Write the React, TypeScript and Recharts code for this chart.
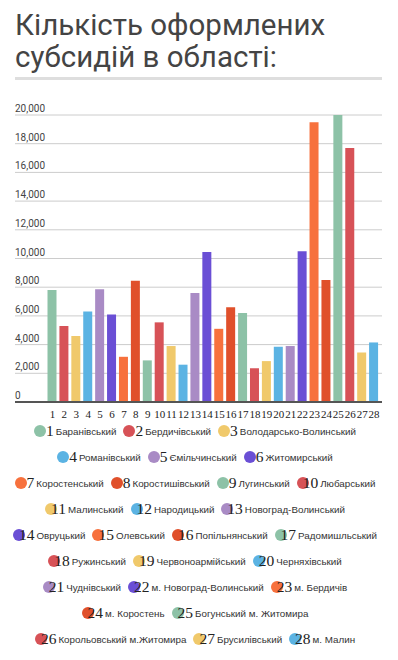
import React from "react";
import { BarChart, Bar, XAxis, YAxis, CartesianGrid, Cell } from "recharts";

const districts = [
  "Баранівський",
  "Бердичівський",
  "Володарсько-Волинський",
  "Романівський",
  "Ємільчинський",
  "Житомирський",
  "Коростенський",
  "Коростишівський",
  "Лугинський",
  "Любарський",
  "Малинський",
  "Народицький",
  "Новоград-Волинський",
  "Овруцький",
  "Олевський",
  "Попільнянський",
  "Радомишльський",
  "Ружинський",
  "Червоноармійський",
  "Черняхівський",
  "Чуднівський",
  "м. Новоград-Волинський",
  "м. Бердичів",
  "м. Коростень",
  "Богунський м. Житомира",
  "Корольовський м.Житомира",
  "Брусилівський",
  "м. Малин",
];

const subsidies = [
  7800, 5300, 4600, 6300, 7850, 6100, 3150, 8450, 2900, 5550, 3900, 2600, 7600, 10450,
  5100, 6600, 6200, 2350, 2850, 3850, 3900, 10500, 19500, 8500, 20000, 17700, 3450, 4150,
];

const palette = ["#8dc2a7", "#d75257", "#f0c96b", "#5bb3e3", "#a98bc5", "#6a4fd5", "#f7713d", "#e0502b"];

const yTicks = [0, 2000, 4000, 6000, 8000, 10000, 12000, 14000, 16000, 18000, 20000];

// which legend entries sit on each row (1-based numbers)
const legendRows = [
  [1, 2, 3],
  [4, 5, 6],
  [7, 8, 9, 10],
  [11, 12, 13],
  [14, 15, 16, 17],
  [18, 19, 20],
  [21, 22, 23],
  [24, 25],
  [26, 27, 28],
];

const data = districts.map((name, i) => ({
  num: String(i + 1),
  name,
  value: subsidies[i],
  color: palette[i % palette.length],
}));

const PLOT_LEFT = 15;

const renderYTick = (props: any) => {
  const { y, payload } = props;
  return (
    <text x={PLOT_LEFT} y={y - 3} fontSize={10} fill="#444" fontFamily="Roboto, sans-serif" textAnchor="start">
      {Number(payload.value).toLocaleString("en-US")}
    </text>
  );
};

const LegendItem = ({ n }: { n: number }) => {
  const d = data[n - 1];
  const digits = d.num.length;
  return (
    <span style={{ display: "inline-flex", alignItems: "center", margin: "0 3.5px", whiteSpace: "nowrap" }}>
      <span
        style={{
          width: 12,
          height: 12,
          borderRadius: "50%",
          background: d.color,
          display: "inline-block",
          flex: "none",
        }}
      />
      <span
        style={{
          fontFamily: "'Liberation Serif', serif",
          fontSize: 15.5,
          color: "#222",
          marginLeft: -(digits - 1) * 6,
          lineHeight: "16px",
        }}
      >
        {d.num}
      </span>
      <span style={{ fontFamily: "'Liberation Sans', Arial, sans-serif", fontSize: 9.8, color: "#333", marginLeft: 2 }}>
        {d.name}
      </span>
    </span>
  );
};

export default function App() {
  return (
    <div style={{ position: "absolute", left: 0, top: 0, width: 398, height: 660, background: "#fff" }}>
      <div
        style={{
          position: "absolute",
          left: 15,
          top: 9,
          fontFamily: "Roboto, sans-serif",
          fontSize: 29.5,
          lineHeight: "32px",
          color: "#444",
          fontWeight: 400,
          whiteSpace: "nowrap",
        }}
      >
        Кількість оформлених
        <br />
        субсидій в області:
      </div>
      <div style={{ position: "absolute", left: 15, top: 77, width: 367, height: 3, background: "#dedede" }} />
      <div style={{ position: "absolute", left: 0, top: 95 }}>
        <BarChart width={398} height={324} data={data} margin={{ top: 20, right: 16, left: PLOT_LEFT - 1, bottom: 0 }}>
          <CartesianGrid vertical={false} stroke="#cccccc" />
          <YAxis
            width={1}
            domain={[0, 20000]}
            ticks={yTicks}
            interval={0}
            allowDataOverflow
            axisLine={false}
            tickLine={false}
            tick={renderYTick}
          />
          <XAxis
            dataKey="num"
            interval={0}
            height={17}
            padding={{ left: 31.5, right: 2 }}
            tickLine={false}
            axisLine={{ stroke: "#555", strokeWidth: 2 }}
            tick={{ fontFamily: "'Liberation Serif', serif", fontSize: 11, fill: "#222" }}
          />
          <Bar dataKey="value" barSize={9} isAnimationActive={false}>
            {data.map((d, i) => (
              <Cell key={i} fill={d.color} />
            ))}
          </Bar>
        </BarChart>
      </div>
      <div style={{ position: "absolute", left: 0, top: 418, width: 390 }}>
        {legendRows.map((row, r) => (
          <div
            key={r}
            style={{ height: 26, display: "flex", justifyContent: "center", alignItems: "center" }}
          >
            {row.map((n) => (
              <LegendItem key={n} n={n} />
            ))}
          </div>
        ))}
      </div>
    </div>
  );
}
